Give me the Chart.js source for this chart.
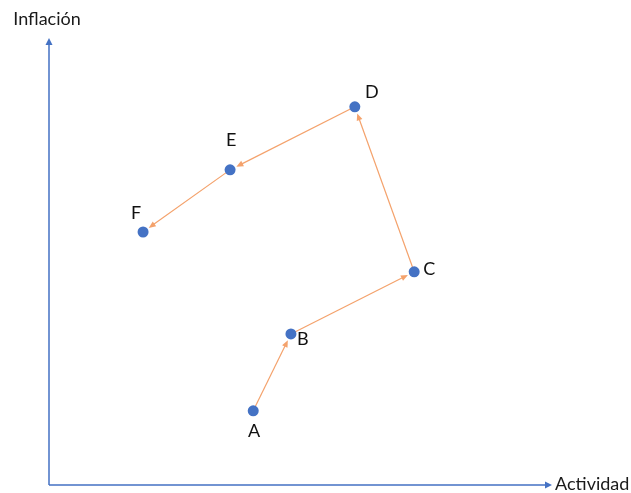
<!DOCTYPE html>
<html>
<head>
<meta charset="utf-8">
<script src="https://cdn.jsdelivr.net/npm/chart.js@4/dist/chart.umd.min.js"></script>
<style>
  html, body { margin: 0; padding: 0; background: #ffffff; }
  #wrap { width: 631px; height: 493px; }
</style>
</head>
<body>
<div id="wrap"><canvas id="chart" width="631" height="493"></canvas></div>
<script>
'use strict';

// Points du parcours (unités 0..100 sur chaque axe)
var LABELS    = ['A', 'B', 'C', 'D', 'E', 'F'];
var ACTIVIDAD = [40.6, 48.1, 72.6, 60.8, 36.0, 18.7];
var INFLACION = [16.6, 33.8, 47.7, 84.6, 70.5, 56.6];

var AXIS_X_TITLE = 'Actividad';
var AXIS_Y_TITLE = 'Inflación';

var BLUE   = '#4472c4';
var ORANGE = '#f4a26c';
var FONT   = 'Lato, "Open Sans", sans-serif';

// décalage des étiquettes (px) par point
var LABEL_OFFSET = [[1, 20], [12, 5], [15, -3], [17, -15], [1, -30], [-7, -19]];

function arrowHead(ctx, x, y, ang, len, half) {
    ctx.beginPath();
    ctx.moveTo(x, y);
    ctx.lineTo(x - len * Math.cos(ang) + half * Math.sin(ang), y - len * Math.sin(ang) - half * Math.cos(ang));
    ctx.lineTo(x - len * Math.cos(ang) - half * Math.sin(ang), y - len * Math.sin(ang) + half * Math.cos(ang));
    ctx.closePath();
    ctx.fill();
}

var pathPlugin = {
    id: 'pathArrows',
    beforeDatasetsDraw: function (chart) {
        var ctx = chart.ctx;
        var a = chart.chartArea;
        var xs = chart.scales.x, ys = chart.scales.y;
        var x0 = xs.getPixelForValue(0), y0 = ys.getPixelForValue(0);
        ctx.save();

        /* axes */
        ctx.strokeStyle = BLUE;
        ctx.fillStyle = BLUE;
        ctx.lineWidth = 1.5;
        ctx.beginPath();
        ctx.moveTo(x0, y0);
        ctx.lineTo(x0, a.top + 5);
        ctx.moveTo(x0, y0);
        ctx.lineTo(a.right - 5, y0);
        ctx.stroke();
        arrowHead(ctx, x0, a.top, -Math.PI / 2, 7, 3.5);
        arrowHead(ctx, a.right, y0, 0, 7, 3.5);

        /* flèches du parcours */
        ctx.strokeStyle = ORANGE;
        ctx.fillStyle = ORANGE;
        ctx.lineWidth = 1.2;
        for (var i = 0; i < LABELS.length - 1; i++) {
            var x1 = xs.getPixelForValue(ACTIVIDAD[i]), y1 = ys.getPixelForValue(INFLACION[i]);
            var x2 = xs.getPixelForValue(ACTIVIDAD[i + 1]), y2 = ys.getPixelForValue(INFLACION[i + 1]);
            var ang = Math.atan2(y2 - y1, x2 - x1);
            var tx = x2 - 7 * Math.cos(ang), ty = y2 - 7 * Math.sin(ang);
            ctx.beginPath();
            ctx.moveTo(x1, y1);
            ctx.lineTo(tx - 4 * Math.cos(ang), ty - 4 * Math.sin(ang));
            ctx.stroke();
            arrowHead(ctx, tx, ty, ang, 7, 3);
        }

        /* titres d'axes */
        ctx.fillStyle = '#1a1a1a';
        ctx.font = '18px ' + FONT;
        ctx.textBaseline = 'middle';
        ctx.textAlign = 'center';
        ctx.fillText(AXIS_Y_TITLE, x0 - 2, 19);
        ctx.textAlign = 'left';
        ctx.fillText(AXIS_X_TITLE, a.right + 3, y0 - 1);
        ctx.restore();
    },
    afterDatasetsDraw: function (chart) {
        var ctx = chart.ctx;
        var xs = chart.scales.x, ys = chart.scales.y;
        ctx.save();
        ctx.fillStyle = '#111111';
        ctx.font = '18px ' + FONT;
        ctx.textAlign = 'center';
        ctx.textBaseline = 'middle';
        LABELS.forEach(function (lab, i) {
            var px = xs.getPixelForValue(ACTIVIDAD[i]);
            var py = ys.getPixelForValue(INFLACION[i]);
            ctx.fillText(lab, px + LABEL_OFFSET[i][0], py + LABEL_OFFSET[i][1]);
        });
        ctx.restore();
    }
};

new Chart(document.getElementById('chart'), {
    type: 'scatter',
    data: {
        labels: LABELS,
        datasets: [{
            data: ACTIVIDAD.map(function (v, i) { return { x: v, y: INFLACION[i] }; }),
            backgroundColor: BLUE,
            borderColor: BLUE,
            pointRadius: 5.5,
            pointHoverRadius: 5.5,
            borderWidth: 0
        }]
    },
    options: {
        responsive: false,
        animation: false,
        layout: { padding: { left: 49, right: 79, top: 38, bottom: 8 } },
        scales: {
            x: { type: 'linear', min: 0, max: 100, display: false },
            y: { type: 'linear', min: 0, max: 100, display: false }
        },
        plugins: {
            legend: { display: false },
            tooltip: { enabled: false }
        }
    },
    plugins: [pathPlugin]
});
</script>
</body>
</html>
